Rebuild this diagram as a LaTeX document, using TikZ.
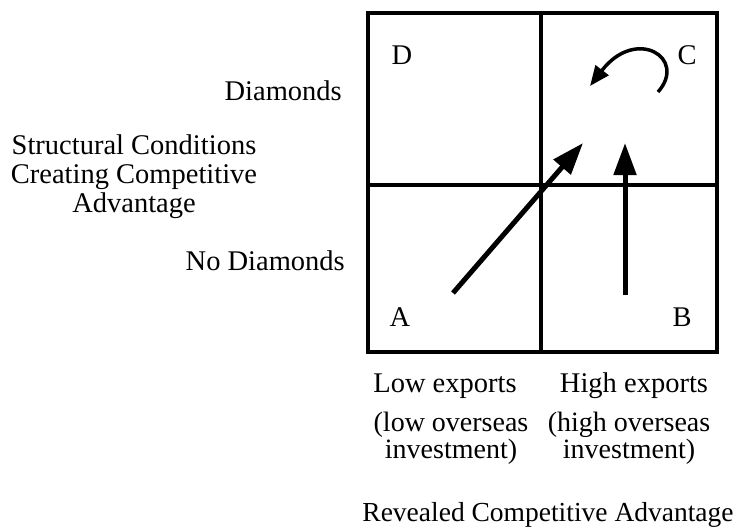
\documentclass[tikz,border=0pt]{standalone}
\usepackage{fontspec}
\setmainfont{Liberation Serif}
\usetikzlibrary{arrows.meta, positioning}
\tikzset{
  frame/.style={
    draw=black, line width=4.5pt, line cap=rect,
  },
  quadlabel/.style={
    inner sep=0pt, font=\fontsize{28.5}{28.5}\selectfont,
  },
  axislabel/.style={
    inner sep=0pt, align=center, font=\fontsize{28.5}{29}\selectfont,
  },
  sublabel/.style={
    inner sep=0pt, align=center, font=\fontsize{28}{27}\selectfont,
  },
  movearrow/.style={
    -{Triangle[length=32pt, width=22pt]}, line width=5pt, draw=black,
  },
  turnarrow/.style={
    -{Triangle[length=20pt, width=16pt]}, line width=3.5pt, draw=black,
  },
}

\begin{document}
\begin{tikzpicture}[x=1pt, y=-1pt]
  \useasboundingbox (0,0) rectangle (735,528);

  % The two-by-two grid
  \coordinate (nw) at (368,13);
  \coordinate (se) at (717,352);
  \coordinate (midtop) at (541,13);
  \coordinate (midbot) at (541,352);
  \coordinate (midleft) at (368,185);
  \coordinate (midright) at (717,185);
  \draw[frame] (nw) rectangle (se);
  \draw[frame] (midtop) -- (midbot);
  \draw[frame] (midleft) -- (midright);

  % Quadrant letters
  \node[quadlabel] (qD) at (402,55) {D};
  \node[quadlabel] (qC) at (687,55) {C};
  \node[quadlabel] (qA) at (400,317) {A};
  \node[quadlabel] (qB) at (682,317) {B};

  % Moves towards C
  \coordinate (fromA) at (453,293);
  \coordinate (toCa) at (583,143);
  \coordinate (fromB) at (625,295);
  \coordinate (toCb) at (625,143);
  \coordinate (turnstart) at (658,92);
  \coordinate (turnend) at (590,86);
  \draw[movearrow] (fromA) -- (toCa);
  \draw[movearrow] (fromB) -- (toCb);
  \draw[turnarrow] (turnstart) .. controls (688,58) and (636,26) .. (turnend);

  % Vertical axis labels
  \node[quadlabel, anchor=base east] (diam) at (342,100) {Diamonds};
  \node[quadlabel, anchor=base east] (nodiam) at (345,270) {No Diamonds};
  \node[axislabel] (structural) at (134,177)
    {Structural Conditions\\Creating Competitive\\Advantage};

  % Horizontal axis labels
  \node[quadlabel, anchor=base] (lowexp) at (445,392) {Low exports};
  \node[quadlabel, anchor=base] (highexp) at (634,392) {High exports};
  \node[sublabel, anchor=north] (lowinv) at (451,412)
    {(low overseas\\investment)};
  \node[sublabel, anchor=north] (highinv) at (629,412)
    {(high overseas\\investment)};
  \node[quadlabel, anchor=base, font=\fontsize{27.5}{28}\selectfont]
    (revealed) at (548,521) {Revealed Competitive Advantage};

\end{tikzpicture}
\end{document}
